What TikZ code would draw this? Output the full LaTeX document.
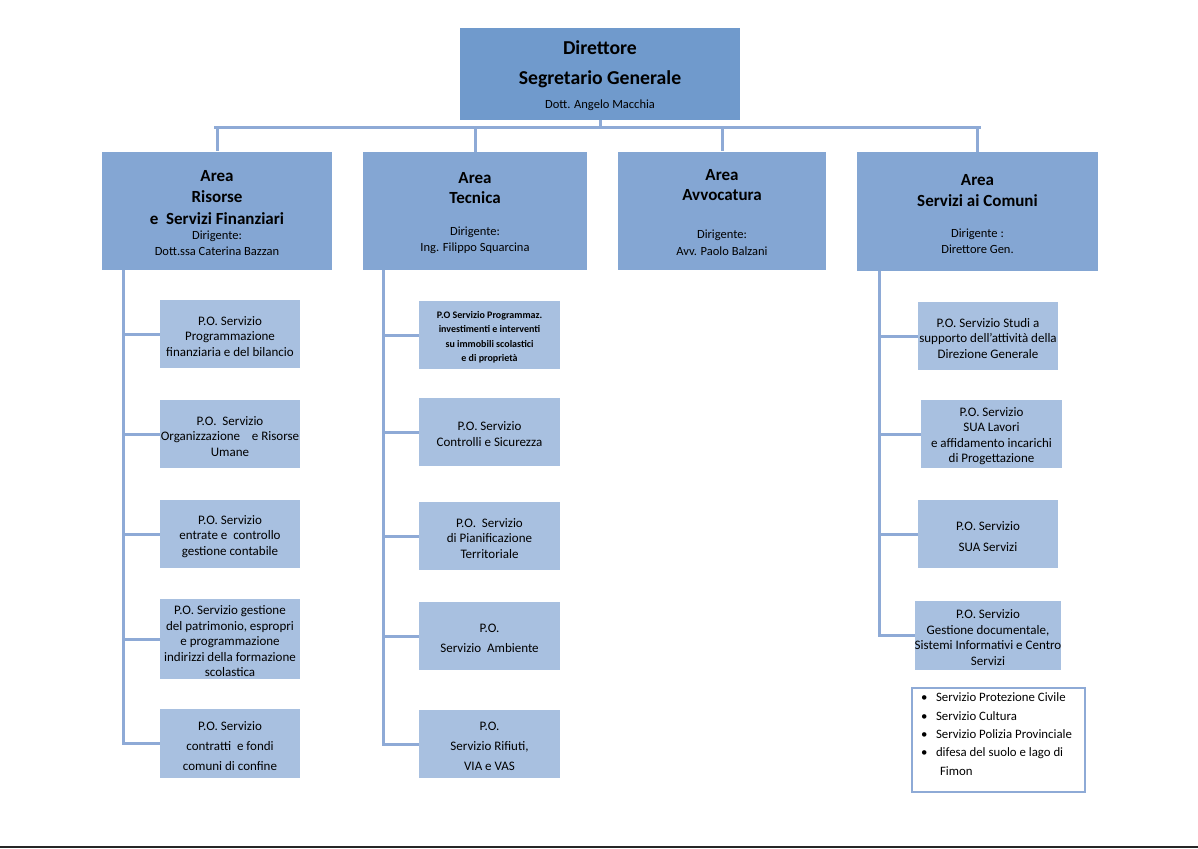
\documentclass[tikz,border=0pt]{standalone}
\usepackage{fontspec}
\setmainfont{Carlito}
\usepackage{tikz}
\usetikzlibrary{positioning}
\definecolor{dirblue}{RGB}{112,154,204}
\definecolor{areablue}{RGB}{132,166,211}
\definecolor{poblue}{RGB}{168,192,224}
\definecolor{lineblue}{RGB}{142,170,214}
\lineskiplimit=-100pt
\newcommand{\dirttl}{\fontsize{19.7}{14}\bfseries\rule{0pt}{17.5pt}}
\newcommand{\areattl}{\fontsize{17}{12}\bfseries}
\newcommand{\pad}[1]{\rule{0pt}{#1}}
\newcommand{\blt}{\makebox[15pt][l]{\textbullet}}
\tikzstyle{dirbox}=[fill=dirblue,minimum width=280pt,minimum height=92pt,inner sep=0pt,align=center,font=\fontsize{12.5}{14}\selectfont]
\tikzstyle{areabox}=[fill=areablue,minimum height=118pt,inner sep=0pt,align=center,font=\fontsize{12.5}{12}\selectfont]
\tikzstyle{pobox}=[fill=poblue,minimum width=140pt,minimum height=68pt,inner sep=0pt,align=center,font=\fontsize{13}{15.5}\selectfont]
\tikzstyle{listbox}=[draw=lineblue,line width=2pt,fill=white,minimum width=173pt,minimum height=104pt,inner sep=0pt,text width=155pt,align=flush left,font=\fontsize{12.8}{18.3}\selectfont]
\tikzstyle{link}=[draw=lineblue,line width=3pt]

\begin{document}
\begin{tikzpicture}[x=1pt,y=-1pt]
  \useasboundingbox (0,0) rectangle (1198,848);
  \fill[black!85] (0,846) rectangle (1198,848);
  % vertice
  \node[dirbox] (dir) at (600,74) {{\dirttl Direttore}\\[16pt]{\dirttl Segretario Generale}\\[10.5pt]Dott. Angelo Macchia};
  % aree
  \node[areabox,minimum width=230pt] (ris) at (217,210.5)
    {{\areattl\pad{16pt}Area}\\[9pt]{\areattl Risorse}\\[10.5pt]{\areattl e~~Servizi Finanziari}\\[3pt]Dirigente:\\[4pt]Dott.ssa Caterina Bazzan};
  \node[areabox,minimum width=224pt] (tec) at (475,211)
    {{\areattl\pad{16pt}Area}\\[8pt]{\areattl Tecnica}\\[20pt]Dirigente:\\[4pt]Ing. Filippo Squarcina};
  \node[areabox,minimum width=208pt] (avv) at (722,210.5)
    {{\areattl\pad{16pt}Area}\\[8pt]{\areattl Avvocatura}\\[26pt]Dirigente:\\[5pt]Avv. Paolo Balzani};
  \node[areabox,minimum width=241pt,minimum height=119pt] (com) at (977.5,211.5)
    {{\areattl\pad{16pt}Area}\\[9pt]{\areattl Servizi ai Comuni}\\[19pt]Dirigente :\\[4pt]Direttore Gen.};
  % servizi area risorse
  \node[pobox] (r1) at (230,334) {\pad{13.4pt}P.O. Servizio\\Programmazione\\finanziaria e del bilancio};
  \node[pobox] (r2) at (230,434) {\pad{13.4pt}P.O.~~Servizio\\Organizzazione~~~~e Risorse\\Umane};
  \node[pobox] (r3) at (230,534) {\pad{13.4pt}P.O. Servizio\\entrate e~~controllo\\gestione contabile};
  \node[pobox,minimum height=80pt] (r4) at (230,639) {\pad{13.4pt}P.O. Servizio gestione\\del patrimonio, espropri\\e programmazione\\indirizzi della formazione\\scolastica};
  \node[pobox,minimum height=69pt] (r5) at (230,743.5) {\pad{13.4pt}P.O. Servizio\\[4.5pt]contratti~~e fondi\\[4.5pt]comuni di confine};
  % servizi area tecnica
  \node[pobox,minimum width=141pt,font=\fontsize{10}{14.5}\bfseries] (t1) at (489.5,335) {\pad{11.5pt}P.O Servizio Programmaz.\\investimenti e interventi\\su immobili scolastici\\e di propriet\`a};
  \node[pobox,minimum width=141pt] (t2) at (489.5,432) {\pad{13.4pt}P.O. Servizio\\Controlli e Sicurezza};
  \node[pobox,minimum width=141pt] (t3) at (489.5,536) {\pad{13.4pt}P.O.~~Servizio\\di Pianificazione\\Territoriale};
  \node[pobox,minimum width=141pt] (t4) at (489.5,636) {\pad{13.4pt}P.O.\\[4.5pt]Servizio~~Ambiente};
  \node[pobox,minimum width=141pt] (t5) at (489.5,744) {\pad{13.4pt}P.O.\\[4.5pt]Servizio Rifiuti,\\[4.5pt]VIA e VAS};
  % servizi area comuni
  \node[pobox] (c1) at (988,336) {\pad{13.4pt}P.O. Servizio Studi a\\supporto dell'attivit\`a della\\Direzione Generale};
  \node[pobox,minimum width=141pt] (c2) at (991.5,434) {\pad{13.4pt}P.O. Servizio\\SUA Lavori\\e affidamento incarichi\\di Progettazione};
  \node[pobox] (c3) at (988,534) {\pad{13.4pt}P.O. Servizio\\[5.5pt]SUA Servizi};
  \node[pobox,minimum height=69pt] (c4) at (988,635.5) {\pad{13.4pt}P.O. Servizio\\Gestione documentale,\\Sistemi Informativi e Centro\\Servizi};
  \node[listbox] (lst) at (998.5,740) {\blt Servizio Protezione Civile\\
    \blt Servizio Cultura\\
    \blt Servizio Polizia Provinciale\\
    \blt difesa del suolo e lago di\\
    \hspace*{19pt}Fimon\rule[-12pt]{0pt}{12pt}};
  % collegamenti
  \coordinate (bus) at (600,127);
  \draw[link] (dir.south) -- (bus);
  \draw[link] ([xshift=-3pt]ris.north |- bus) -- ([xshift=3pt]com.north |- bus);
  \foreach \a in {ris,tec,avv,com}
    \draw[link] (\a.north |- bus) -- (\a.north);
  \coordinate (rtr) at ([xshift=22pt]ris.south west);
  \coordinate (ttr) at ([xshift=21pt]tec.south west);
  \coordinate (ctr) at ([xshift=23pt]com.south west);
  \draw[link] (rtr) |- (r5.west);
  \foreach \n in {r1,r2,r3,r4}
    \draw[link] (rtr |- \n.west) -- (\n.west);
  \draw[link] (ttr) |- (t5.west);
  \foreach \n in {t1,t2,t3,t4}
    \draw[link] (ttr |- \n.west) -- (\n.west);
  \draw[link] (ctr) |- (c4.west);
  \foreach \n in {c1,c2,c3}
    \draw[link] (ctr |- \n.west) -- (\n.west);
\end{tikzpicture}
\end{document}
